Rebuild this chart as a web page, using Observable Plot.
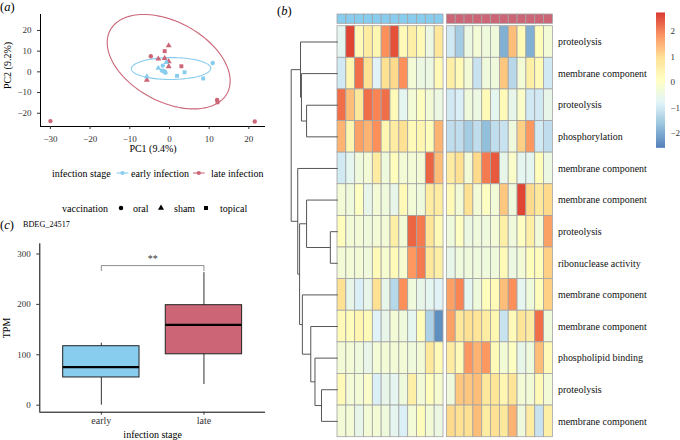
<!DOCTYPE html>
<html><head><meta charset="utf-8">
<script src="https://cdn.jsdelivr.net/npm/d3@7"></script>
<script src="https://cdn.jsdelivr.net/npm/@observablehq/plot@0.6"></script>
<style>
body{margin:0;background:#fff;}
#fig{position:relative;width:680px;height:440px;font-family:"Liberation Serif",serif;overflow:hidden;background:#fff}
.lab{position:absolute;font-family:"Liberation Serif",serif;color:#000;white-space:nowrap;line-height:1}
</style></head><body><div id="fig"></div>
<script>
// ---------- (a) PCA data ----------
const pcaStage = ["late","late","late","late","late","late","late","late","late","late","late","late","late",
  "early","early","early","early","early","early","early","early","early","early","early","early"];
const pcaVacc = ["oral","oral","topical","oral","oral","sham","topical","sham","sham","sham","sham","topical","sham",
  "sham","sham","oral","sham","oral","topical","oral","topical","topical","oral","topical","oral"];
const pc1 = [-30.0,21.5,12.1,12.0,-4.7,-2.8,-1.2,-0.2,-1.2,-0.2,-0.2,3.0,-5.7,
  -5.7,-2.8,-1.7,-0.8,-1.5,-1.2,-1.9,1.9,3.8,10.9,8.5,-1.0];
const pc2 = [-23.8,-24.0,-14.7,-13.6,7.5,6.3,10.0,12.7,6.6,5.0,2.6,2.7,-3.9,
  -2.3,1.8,3.0,4.6,0.4,0.0,0.6,-1.9,-0.2,4.3,-3.2,-0.4];
const ellipseStage = ["early","late"];
const ellipseCx = [0.4,-0.2], ellipseCy = [1.6,4.9];
const ellipseVx = [100,240], ellipseVy = [28,520], ellipseCxy = [1,-143.6];
const stageNames = ["early infection","late infection"];
const vaccNames = ["oral","sham","topical"];

// ---------- (b) heatmap data ----------
const rowLabels = ["proteolysis","membrane component","proteolysis","phosphorylation","membrane component",
  "membrane component","proteolysis","ribonuclease activity","membrane component","membrane component",
  "phospholipid binding","proteolysis","membrane component"];
const earlyValues = [
 [-0.7,2.5,0.2,0.6,0.3,1.8,2.4,0.2,0.5,0.2,-0.5,0.7],
 [-1.0,0.3,2.1,0.9,-0.8,0.9,1.0,1.8,-0.3,-0.5,-0.5,0.2],
 [2.1,1.3,0.7,2.1,1.9,2.1,0.2,-0.7,-0.3,0.0,-0.3,-0.5],
 [1.4,0.3,1.6,1.4,1.8,0.3,0.6,0.9,0.2,0.3,0.1,1.4],
 [-1.0,-0.7,-0.4,-0.3,0.6,-0.4,0.1,-0.3,-0.3,-0.3,2.2,1.3],
 [-0.3,-0.4,0.0,-0.6,-0.3,-0.4,-0.6,0.2,-0.3,-0.4,0.6,0.6],
 [0.1,-0.3,-0.3,-0.4,-0.3,-0.3,0.5,-0.3,2.2,2.0,0.8,0.2],
 [-0.3,-0.3,-0.3,-0.4,0.2,-0.2,0.2,-0.2,1.7,2.0,0.7,0.5],
 [0.9,-0.6,-0.9,-0.6,0.9,-0.6,-1.3,1.8,-0.4,-0.6,-0.7,-0.8],
 [0.2,0.1,0.3,0.2,-0.8,-0.6,-0.3,-0.4,-0.7,0.1,-1.4,-2.3],
 [-0.3,-0.3,-0.4,-0.6,-0.3,-0.3,-0.3,-0.3,-0.4,-0.3,0.7,0.2],
 [0.2,-0.3,-0.3,-0.1,-0.9,-0.6,-0.7,-0.4,0.5,-0.3,0.1,-0.2],
 [-0.3,-0.3,-0.6,-0.3,-0.3,-0.4,-0.7,-0.9,-0.3,0.1,-0.3,-0.5]
];
const lateValues = [
 [-1.0,-1.5,-0.5,-0.3,-0.4,-0.4,-1.9,1.3,0.2,-1.9,0.1,-0.3],
 [0.5,0.2,-0.3,-1.1,-0.4,-0.4,1.2,-1.3,-0.3,0.5,0.2,-1.0],
 [-1.0,-0.9,-0.4,-0.5,0.2,-0.7,0.2,-0.6,-0.1,-1.0,-1.0,-0.6],
 [-1.2,-1.2,-1.5,-1.2,-1.7,-1.2,-1.1,-0.4,1.1,1.7,-1.0,-1.2],
 [0.6,0.9,-0.3,1.0,2.0,2.3,-0.6,-0.1,-0.7,-0.7,0.1,-0.5],
 [0.2,-0.3,0.9,-0.3,0.0,-0.3,1.2,-0.4,2.5,1.0,0.7,1.0],
 [-0.4,0.0,-0.5,-0.4,-0.4,-0.3,0.5,-0.4,0.0,0.5,-0.3,1.6],
 [-0.6,-0.4,-0.4,-0.4,-0.4,-0.4,0.2,-0.5,-0.3,0.1,0.1,1.1],
 [1.6,1.9,-0.7,-0.4,0.1,0.2,1.3,1.8,-0.7,-0.4,0.1,1.1],
 [1.6,0.7,0.9,0.8,0.6,0.3,-1.1,0.2,0.8,0.6,2.1,-0.4],
 [0.6,0.2,1.7,1.4,1.7,0.2,-0.3,0.0,-0.6,-0.4,1.3,0.2],
 [-0.4,1.2,1.2,1.3,0.7,0.8,0.3,0.8,-0.3,-0.3,0.2,-0.3],
 [1.0,0.9,0.9,1.3,0.6,0.9,0.7,1.4,-0.4,0.6,-1.1,0.5]
];
// row dendrogram merges: [left, right, height]; L = leaf row, M = earlier merge
const dendroMerges = [
 ["L6","L7",1.6],["L11","L12",3.5],["L10","M1",4.9],["L9","M2",5.8],["L2","L3",6.7],["L5","M0",6.7],
 ["L8","M3",7.6],["L1","M4",7.8],["L0","M7",8.0],["M5","M6",8.2],["L4","M9",8.6],["M8","M10",10]
];
const heatColors = ["#4575B4","#91BFDB","#E0F3F8","#FFFFBF","#FEE090","#FC8D59","#D73027"];
const heatMin = -2.6, heatMax = 2.7;
const heatTicks = [-2,-1,0,1,2];

// ---------- (c) boxplot data ----------
const boxStage = ["early","late"];
const boxLow = [0,41], boxQ1 = [55,101], boxMedian = [75.4,159.5], boxQ3 = [117,198.4], boxHigh = [123,263];
const sigY = 277, sigLabel = "**";
const geneName = "BDEG_24517";

const stageColors = ["#88CCEE","#CC6677"];
const fig = document.getElementById("fig");
function place(node, left, top){ node.style.position="absolute"; node.style.left=left+"px"; node.style.top=top+"px"; fig.appendChild(node); return node; }
function label(html, left, top, size, extra){ const d=document.createElement("div"); d.className="lab"; d.innerHTML=html; d.style.fontSize=size+"px"; if(extra) Object.assign(d.style, extra); return place(d,left,top); }
const baseStyle = {fontFamily:"Liberation Serif, serif", fontSize:"9px", color:"#333", background:"transparent", overflow:"visible"};
const titleOpts = {fontSize:10, fill:"#000", textAnchor:"middle", lineAnchor:"middle"};

// ---------- (a) PCA ----------
const pts = pc1.map((x,i)=>({x, y:pc2[i], stage:pcaStage[i], vacc:pcaVacc[i]}));
const ell = [];
ellipseStage.forEach((s,k)=>{
  const sa = Math.sqrt(ellipseVx[k]), c = ellipseCxy[k]/sa, d = Math.sqrt(ellipseVy[k]-c*c);
  for (let t=0; t<=2*Math.PI+1e-9; t+=Math.PI/60)
    ell.push({stage:s, x: ellipseCx[k] + sa*Math.cos(t), y: ellipseCy[k] + c*Math.cos(t) + d*Math.sin(t)});
});
const pxDom = [-32.5, 24.2], pyDom = [-26.4, 27.7];
const pca = Plot.plot({
  width: 270, height: 160, marginLeft: 40, marginRight: 5, marginTop: 14, marginBottom: 34,
  style: baseStyle,
  x: {domain: pxDom}, y: {domain: pyDom},
  color: {domain: ellipseStage, range: stageColors},
  symbol: {domain: vaccNames, range: ["circle","triangle","square"]},
  marks: [
    Plot.ruleY([pyDom[0]], {stroke:"#000"}),
    Plot.ruleX([pxDom[0]], {stroke:"#000"}),
    Plot.axisX({ticks:[-30,-20,-10,0,10,20], tickSize:3, label:null}),
    Plot.axisY({ticks:[-20,-10,0,10,20], tickSize:3, label:null}),
    Plot.line(ell, {x:"x", y:"y", z:"stage", stroke:"stage", strokeWidth:1.1}),
    Plot.dot(pts, {x:"x", y:"y", fill:"stage", symbol:"vacc", r:2.2}),
    Plot.text(["PC1 (9.4%)"], {frameAnchor:"bottom", dy:22, ...titleOpts}),
    Plot.text(["PC2 (9.2%)"], {frameAnchor:"left", dx:-33, dy:-5, rotate:-90, ...titleOpts})
  ]
});
place(pca, 0, 0);
label("(<i>a</i>)", 0, 1, 12.5);

// legends for (a)
const leg = d3.create("svg").attr("width",280).attr("height",70).style("font-family","Liberation Serif, serif").style("font-size","10px");
const l1 = 23, l2 = 58;
leg.append("text").attr("x",52).attr("y",l1).attr("dy","0.35em").text("infection stage");
[[116.7,131,0],[193,211,1]].forEach(([lx,tx,k])=>{
  leg.append("line").attr("x1",lx).attr("x2",lx+11.6).attr("y1",l1).attr("y2",l1).attr("stroke",stageColors[k]).attr("stroke-width",1.1);
  leg.append("circle").attr("cx",lx+5.8).attr("cy",l1).attr("r",2.1).attr("fill",stageColors[k]);
  leg.append("text").attr("x",tx).attr("y",l1).attr("dy","0.35em").text(stageNames[k]);
});
leg.append("text").attr("x",62).attr("y",l2).attr("dy","0.35em").text("vaccination");
const sym = [d3.symbolCircle, d3.symbolTriangle, d3.symbolSquare];
[[121,133],[161,174],[206,220]].forEach(([sx,tx],k)=>{
  leg.append("path").attr("d", d3.symbol(sym[k], 16)()).attr("transform",`translate(${sx},${l2})`).attr("fill","#000");
  leg.append("text").attr("x",tx).attr("y",l2).attr("dy","0.35em").text(vaccNames[k]);
});
place(leg.node(), 0, 150);

// ---------- (c) boxplot ----------
const boxes = boxStage.map((s,i)=>({i:i+1, stage:s, low:boxLow[i], q1:boxQ1[i], med:boxMedian[i], q3:boxQ3[i], high:boxHigh[i]}));
const hw = 0.372, tip = 10;
const bxDom = [0.4, 2.6], byDom = [-13.9, 320.2];
const bracket = [{x:1,y:sigY-tip},{x:1,y:sigY},{x:2,y:sigY},{x:2,y:sigY-tip}];
const boxPlot = Plot.plot({
  width: 270, height: 225, marginLeft: 39.3, marginRight: 5, marginTop: 28.3, marginBottom: 28.3,
  style: baseStyle,
  x: {domain: bxDom}, y: {domain: byDom},
  color: {domain: boxStage, range: stageColors},
  marks: [
    Plot.ruleY([byDom[0]], {stroke:"#000"}),
    Plot.ruleX([bxDom[0]], {stroke:"#000"}),
    Plot.axisX({ticks:[1,2], tickFormat:d=>boxStage[d-1], tickSize:3, tickPadding:2, label:null, fontSize:10}),
    Plot.axisY({ticks:[0,100,200,300], tickSize:3, label:null}),
    Plot.ruleX(boxes, {x:"i", y1:"low", y2:"high", stroke:"#333", strokeWidth:1}),
    Plot.rect(boxes, {x1:d=>d.i-hw, x2:d=>d.i+hw, y1:"q1", y2:"q3", fill:"stage", stroke:"#222", strokeWidth:1}),
    Plot.ruleY(boxes, {y:"med", x1:d=>d.i-hw, x2:d=>d.i+hw, stroke:"#000", strokeWidth:2.2}),
    Plot.line(bracket, {x:"x", y:"y", stroke:"#444", strokeWidth:0.6}),
    Plot.text([sigLabel], {x:()=>1.5, y:()=>sigY, dy:-7, fontSize:10, fill:"#333"}),
    Plot.text(["TPM"], {frameAnchor:"left", dx:-33, rotate:-90, ...titleOpts}),
    Plot.text(["infection stage"], {frameAnchor:"bottom", dy:22.5, ...titleOpts})
  ]
});
place(boxPlot, 0, 215);
label("(<i>c</i>)", 0, 219, 12.5);
label(geneName, 23, 221, 8.2);

// ---------- (b) heatmap ----------
const nCol = 12, gap = 0.38, hx0 = 337.3, cw = 8.835;
const cells = [];
rowLabels.forEach((lab,r)=>{
  earlyValues[r].forEach((v,c)=>cells.push({r, x:c, v}));
  lateValues[r].forEach((v,c)=>cells.push({r, x:c+nCol+gap, v}));
});
const annot = [];
boxStage.forEach((s,k)=>{ for(let c=0;c<nCol;c++) annot.push({stage:s, x:c + k*(nCol+gap)}); });
const xMax = 2*nCol + gap;
const heatDomain = heatColors.map((_,i)=>heatMin + i*(heatMax-heatMin)/(heatColors.length-1));
const heatW = xMax*cw;
const yTop = 25.7, yBot = 3.3;
const heat = Plot.plot({
  width: heatW + 130, height: 440, marginLeft: 0, marginRight: 130, marginTop: yTop, marginBottom: yBot,
  style: baseStyle,
  x: {domain:[0,xMax], axis:null}, y: {domain:[0,13], reverse:true, axis:null},
  color: {type:"linear", domain: heatDomain, range: heatColors, interpolate:"rgb"},
  marks: [
    Plot.rect(cells, {x1:"x", x2:d=>d.x+1, y1:"r", y2:d=>d.r+1, fill:"v", stroke:"#A3A3A3", strokeWidth:0.8}),
    ...boxStage.map((s,k)=>Plot.rect(annot.filter(d=>d.stage===s), {x1:"x", x2:d=>d.x+1, y1:()=>-0.37, y2:()=>-0.075, fill:stageColors[k], stroke:"#A3A3A3", strokeWidth:0.8})),
    Plot.text(rowLabels, {x:()=>xMax, y:(d,i)=>i+0.5, dx:5, textAnchor:"start", fontSize:10, fill:"#111"})
  ]
});
place(heat, hx0, 0);

// dendrogram
const merged = [], segs = [];
const nodePos = id => id[0]==="L" ? {x:0, y:+id.slice(1)+0.5} : merged[+id.slice(1)];
dendroMerges.forEach(([a,b,h])=>{
  const A = nodePos(a), B = nodePos(b);
  segs.push({x1:A.x,y1:A.y,x2:h,y2:A.y},{x1:B.x,y1:B.y,x2:h,y2:B.y},{x1:h,y1:A.y,x2:h,y2:B.y});
  merged.push({x:h, y:(A.y+B.y)/2});
});
const dendro = Plot.plot({
  width: hx0-280, height: 440, marginLeft: 10.7, marginRight: 0, marginTop: yTop, marginBottom: yBot,
  style: baseStyle,
  x: {domain:[10,0], axis:null}, y: {domain:[0,13], reverse:true, axis:null},
  marks: [ Plot.link(segs, {x1:"x1", y1:"y1", x2:"x2", y2:"y2", stroke:"#555", strokeWidth:1}) ]
});
place(dendro, 280, 0);
label("(<i>b</i>)", 277, 5, 12.5);

// colour bar
const step = 0.02;
const ramp = d3.range(heatMin, heatMax, step);
const cbar = Plot.plot({
  width: 24, height: 150, marginLeft: 0, marginRight: 15, marginTop: 13.3, marginBottom: 2.3,
  style: baseStyle,
  y: {domain:[heatMin, heatMax]},
  color: {type:"linear", domain: heatDomain, range: heatColors, interpolate:"rgb"},
  marks: [
    Plot.rect(ramp, {y1:d=>d, y2:d=>d+step*1.6, fill:d=>d}),
    Plot.axisY({anchor:"right", ticks:heatTicks, tickFormat:d3.format("d"), tickSize:0, tickPadding:5, label:null})
  ]
});
place(cbar, 656, 0);
</script></body></html>
